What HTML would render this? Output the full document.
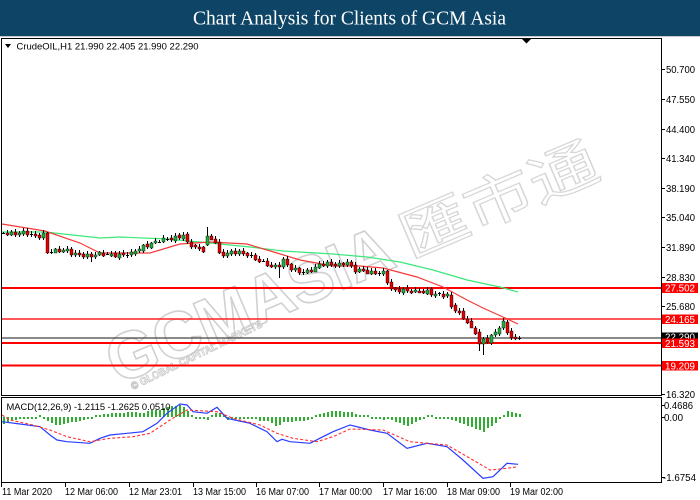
<!DOCTYPE html>
<html>
<head>
<meta charset="utf-8">
<style>
html,body{margin:0;padding:0;background:#fff;}
svg{display:block;}
text{font-family:"Liberation Sans","Noto Sans CJK SC",sans-serif;}
</style>
</head>
<body>
<svg id="svg" width="700" height="500" viewBox="0 0 700 500" xmlns="http://www.w3.org/2000/svg">
<rect width="700" height="500" fill="#fff"/>
<rect x="0" y="0" width="700" height="36" fill="#0e4567"/>
<line x1="0" y1="36.5" x2="700" y2="36.5" stroke="#c8c8c8" stroke-width="1"/>
<text x="193" y="24.5" font-size="19.5" fill="#fff" textLength="313" lengthAdjust="spacingAndGlyphs" style="font-family:'Liberation Serif',serif">Chart Analysis for Clients of GCM Asia</text>

<!-- watermark -->
<g>
<g transform="rotate(-23 118 385)">
<text x="118" y="385" font-size="66" font-weight="bold" fill="none" stroke="#d0d0d0" stroke-width="1.6" textLength="305" lengthAdjust="spacingAndGlyphs">GCMASIA</text>
<text x="436" y="383" font-size="56" fill="none" stroke="#d6d6d6" stroke-width="1.2" textLength="210" lengthAdjust="spacingAndGlyphs" style="font-family:'Noto Sans CJK SC',sans-serif">匯市通</text>
</g>
<g transform="rotate(-26 133 390)">
<text x="133" y="390" font-size="10.5" font-weight="bold" fill="none" stroke="#c8c8c8" stroke-width="0.8" textLength="145" lengthAdjust="spacingAndGlyphs">© GLOBAL CAPITAL MARKETS</text>
</g>
</g>

<!-- panels -->
<rect x="1.5" y="38.5" width="660" height="357" fill="none" stroke="#000" stroke-width="1"/>
<rect x="1.5" y="397.5" width="660" height="85" fill="none" stroke="#000" stroke-width="1"/>

<!-- header -->
<polygon points="5,44 11,44 8,48" fill="#000"/>
<text x="16.5" y="49.5" font-size="9.5" fill="#000" textLength="182" lengthAdjust="spacingAndGlyphs">CrudeOIL,H1  21.990 22.405 21.990 22.290</text>
<polygon points="522,39 531,39 526.5,43.5" fill="#000"/>

<!-- horizontal levels -->
<line x1="2" y1="288" x2="661" y2="288" stroke="#ff0000" stroke-width="2"/>
<line x1="2" y1="319" x2="661" y2="319" stroke="#ff2020" stroke-width="1.6"/>
<line x1="2" y1="338" x2="661" y2="338" stroke="#444" stroke-width="1.2"/>
<line x1="2" y1="343" x2="661" y2="343" stroke="#ff0000" stroke-width="2"/>
<line x1="2" y1="365.5" x2="661" y2="365.5" stroke="#ff0000" stroke-width="2"/>

<g id="dyn"></g>

<!-- y axis ticks and labels -->
<g stroke="#000" stroke-width="1">
<line x1="661" y1="69.5" x2="665" y2="69.5"/>
<line x1="661" y1="99.5" x2="665" y2="99.5"/>
<line x1="661" y1="129.5" x2="665" y2="129.5"/>
<line x1="661" y1="158.5" x2="665" y2="158.5"/>
<line x1="661" y1="188.5" x2="665" y2="188.5"/>
<line x1="661" y1="217.5" x2="665" y2="217.5"/>
<line x1="661" y1="247.5" x2="665" y2="247.5"/>
<line x1="661" y1="277.5" x2="665" y2="277.5"/>
<line x1="661" y1="306.5" x2="665" y2="306.5"/>
<line x1="661" y1="394.5" x2="665" y2="394.5"/>
<line x1="661" y1="405.5" x2="665" y2="405.5"/>
<line x1="661" y1="417.5" x2="665" y2="417.5"/>
<line x1="661" y1="477.5" x2="665" y2="477.5"/>
</g>
<g font-size="10" fill="#000">
<text x="666" y="73" textLength="29" lengthAdjust="spacingAndGlyphs">50.700</text>
<text x="666" y="103" textLength="29" lengthAdjust="spacingAndGlyphs">47.550</text>
<text x="666" y="133" textLength="29" lengthAdjust="spacingAndGlyphs">44.400</text>
<text x="666" y="162" textLength="29" lengthAdjust="spacingAndGlyphs">41.340</text>
<text x="666" y="192" textLength="29" lengthAdjust="spacingAndGlyphs">38.190</text>
<text x="666" y="221" textLength="29" lengthAdjust="spacingAndGlyphs">35.040</text>
<text x="666" y="251" textLength="29" lengthAdjust="spacingAndGlyphs">31.890</text>
<text x="666" y="281" textLength="29" lengthAdjust="spacingAndGlyphs">28.830</text>
<text x="666" y="310" textLength="29" lengthAdjust="spacingAndGlyphs">25.680</text>
<text x="666" y="398" textLength="29" lengthAdjust="spacingAndGlyphs">16.320</text>
<text x="664" y="409" textLength="29" lengthAdjust="spacingAndGlyphs">0.4686</text>
<text x="664" y="421" textLength="19" lengthAdjust="spacingAndGlyphs">0.00</text>
<text x="663" y="481" textLength="33" lengthAdjust="spacingAndGlyphs">-1.6754</text>
</g>

<!-- price boxes -->
<rect x="662" y="283" width="36" height="10" fill="#ff0000"/>
<text x="665" y="291.5" font-size="10" fill="#fff" textLength="30" lengthAdjust="spacingAndGlyphs">27.502</text>
<rect x="662" y="314.5" width="36" height="9.5" fill="#ff0000"/>
<text x="665" y="322.8" font-size="10" fill="#fff" textLength="30" lengthAdjust="spacingAndGlyphs">24.165</text>
<rect x="662" y="332.5" width="36" height="9" fill="#000"/>
<text x="665" y="340.5" font-size="10" fill="#fff" textLength="30" lengthAdjust="spacingAndGlyphs">22.290</text>
<rect x="662" y="338.5" width="36" height="9.5" fill="#ff0000"/>
<text x="665" y="346.8" font-size="10" fill="#fff" textLength="30" lengthAdjust="spacingAndGlyphs">21.593</text>
<rect x="662" y="361" width="36" height="9.5" fill="#ff0000"/>
<text x="665" y="369.3" font-size="10" fill="#fff" textLength="30" lengthAdjust="spacingAndGlyphs">19.209</text>

<!-- MACD title -->
<text x="6.5" y="410" font-size="9.5" fill="#000" textLength="164" lengthAdjust="spacingAndGlyphs">MACD(12,26,9) -1.2115 -1.2625 0.0510</text>

<!-- time axis -->
<g stroke="#000" stroke-width="1">
<line x1="1.5" y1="483" x2="1.5" y2="487"/>
<line x1="65.5" y1="483" x2="65.5" y2="487"/>
<line x1="129.5" y1="483" x2="129.5" y2="487"/>
<line x1="193.5" y1="483" x2="193.5" y2="487"/>
<line x1="256.5" y1="483" x2="256.5" y2="487"/>
<line x1="319.5" y1="483" x2="319.5" y2="487"/>
<line x1="383.5" y1="483" x2="383.5" y2="487"/>
<line x1="447.5" y1="483" x2="447.5" y2="487"/>
<line x1="510.5" y1="483" x2="510.5" y2="487"/>
</g>
<g font-size="10" fill="#000">
<text x="2" y="495" textLength="50" lengthAdjust="spacingAndGlyphs">11 Mar 2020</text>
<text x="65" y="495" textLength="53" lengthAdjust="spacingAndGlyphs">12 Mar 06:00</text>
<text x="129" y="495" textLength="53" lengthAdjust="spacingAndGlyphs">12 Mar 23:01</text>
<text x="193" y="495" textLength="53" lengthAdjust="spacingAndGlyphs">13 Mar 15:00</text>
<text x="256" y="495" textLength="53" lengthAdjust="spacingAndGlyphs">16 Mar 07:00</text>
<text x="319" y="495" textLength="53" lengthAdjust="spacingAndGlyphs">17 Mar 00:00</text>
<text x="383" y="495" textLength="54" lengthAdjust="spacingAndGlyphs">17 Mar 16:00</text>
<text x="447" y="495" textLength="53" lengthAdjust="spacingAndGlyphs">18 Mar 09:00</text>
<text x="510" y="495" textLength="53" lengthAdjust="spacingAndGlyphs">19 Mar 02:00</text>
</g>
</svg>
<script>
(function(){
function interp(p,x){
  if(x<=p[0][0]) return p[0][1];
  for(var i=0;i<p.length-1;i++){
    if(x<=p[i+1][0]){var x0=p[i][0],y0=p[i][1],x1=p[i+1][0],y1=p[i+1][1];return y0+(y1-y0)*(x-x0)/(x1-x0);}
  }
  return p[p.length-1][1];
}
function poly(p){return p.map(function(a){return a[0]+','+a[1];}).join(' ');}
var C=[[3,233],[15,234],[25,232],[35,235],[44,234],[47,252],[55,251],[65,250],[75,253],[85,254],[93,256],[100,254],[110,255],[120,254],[130,253],[138,250],[145,246],[152,243],[158,240],[165,238],[175,237],[183,236],[187,243],[195,247],[203,249],[207,240],[211,238],[215,241],[220,256],[228,253],[236,252],[246,253],[252,256],[258,260],[265,263],[272,268],[278,266],[283,260],[288,265],[293,268],[300,271],[307,271],[313,270],[318,266],[322,264],[330,263],[340,263],[348,262],[353,270],[360,271],[370,272],[380,271],[384,272],[388,283],[392,290],[400,291],[410,291],[420,291],[428,290],[433,294],[440,295],[447,296],[449,305],[455,309],[460,314],[466,318],[469,325],[475,332],[480,342],[484,344],[488,340],[493,335],[497,330],[500,325],[503,322],[507,330],[511,336],[515,338],[519,337]];
var RMA=[[2,224],[45,231],[80,243],[100,253],[150,253],[180,244],[210,242],[247,244],[277,253],[300,260],[333,266],[360,266],[383,268],[417,277],[443,287],[467,300],[483,308],[503,317],[518,324]];
var GMA=[[2,232],[45,232],[100,238],[120,237],[167,239],[210,243],[250,247],[283,251],[333,254],[367,257],[400,262],[433,270],[467,280],[500,287],[518,292]];
var B=[[2,421.7],[20,424],[40,426.7],[50,435],[57,440],[67,441.7],[90,443.3],[100,438.3],[110,435],[127,433.3],[143,431.7],[157,423.3],[167,413.3],[180,404],[187,405],[193,411.7],[207,413.3],[217,407.3],[227,418.3],[250,423.3],[267,431.7],[277,441.7],[282,439.3],[290,441.7],[310,443.3],[323,436.7],[333,431.7],[350,425],[370,430],[387,433.3],[407,448.3],[427,443.3],[447,446.7],[463,460],[483,478.3],[493,476.7],[507,463.3],[518,464.3]];
var R=[[2,415],[10,420],[33,425],[50,430],[67,436.7],[90,441.7],[110,438.3],[133,436.7],[150,433.3],[170,420],[187,410],[217,411.7],[233,418.3],[260,425],[277,433.3],[293,438.3],[317,441.7],[333,436.7],[350,429],[383,430],[410,441.7],[427,443.3],[447,445],[473,460],[490,470],[507,468.3],[518,466.7]];
var S={51:{o:244,c:236,hi:227,lo:246},22:{lo:262},69:{lo:278},119:{o:332,c:343,lo:351},120:{o:343,c:339,lo:355}};
var s='';
// MACD histogram
for(var j=0;j<130;j++){
  var hx=3+4*j;
  var d=Math.round((interp(R,hx)-interp(B,hx))*1.2);
  if(Math.abs(d)<2)d=d<0?-2:2;
  var y0=d>0?417-d:417, h=Math.abs(d);
  s+='<rect x="'+hx+'" y="'+y0+'" width="2" height="'+h+'" fill="#2fae2f" shape-rendering="crispEdges"/>';
}
s+='<polyline points="'+poly(B)+'" fill="none" stroke="#2a3cff" stroke-width="1.2"/>';
s+='<polyline points="'+poly(R)+'" fill="none" stroke="#ff3030" stroke-width="1.1" stroke-dasharray="3 2"/>';
// MAs
s+='<polyline points="'+poly(GMA)+'" fill="none" stroke="#3ce87a" stroke-width="1.2"/>';
s+='<polyline points="'+poly(RMA)+'" fill="none" stroke="#f53a3a" stroke-width="1.2"/>';
// candles
var prev=interp(C,3);
for(var i=0;i<130;i++){
  var x=3+4*i;
  var c=interp(C,x)+1.3*Math.sin(i*2.3)+0.9*Math.sin(i*5.7);
  var o=prev+0.6*Math.sin(i*3.1);
  var sp=S[i]||{};
  if(sp.o!==undefined)o=sp.o;
  if(sp.c!==undefined)c=sp.c;
  o=Math.round(o);c=Math.round(c);
  var top=Math.min(o,c),bot=Math.max(o,c);
  var hi=top-Math.round(1+2.5*Math.abs(Math.sin(i*1.7)));
  var lo=bot+Math.round(1+2.5*Math.abs(Math.sin(i*2.9)));
  if(sp.hi!==undefined)hi=sp.hi;
  if(sp.lo!==undefined)lo=sp.lo;
  s+='<rect x="'+x+'" y="'+hi+'" width="1" height="'+(lo-hi)+'" fill="#000"/>';
  if(bot-top<1){
    s+='<rect x="'+(x-1)+'" y="'+top+'" width="3" height="1" fill="#000"/>';
  }else{
    var col=(c<o?'#1faf3a':'#e00000');
    s+='<rect x="'+(x-1)+'" y="'+top+'" width="3" height="'+(bot-top+1)+'" fill="'+col+'" stroke="#000" stroke-width="0.4"/>';
  }
  prev=c;
}
document.getElementById('dyn').innerHTML=s;
})();
</script>
</body>
</html>
